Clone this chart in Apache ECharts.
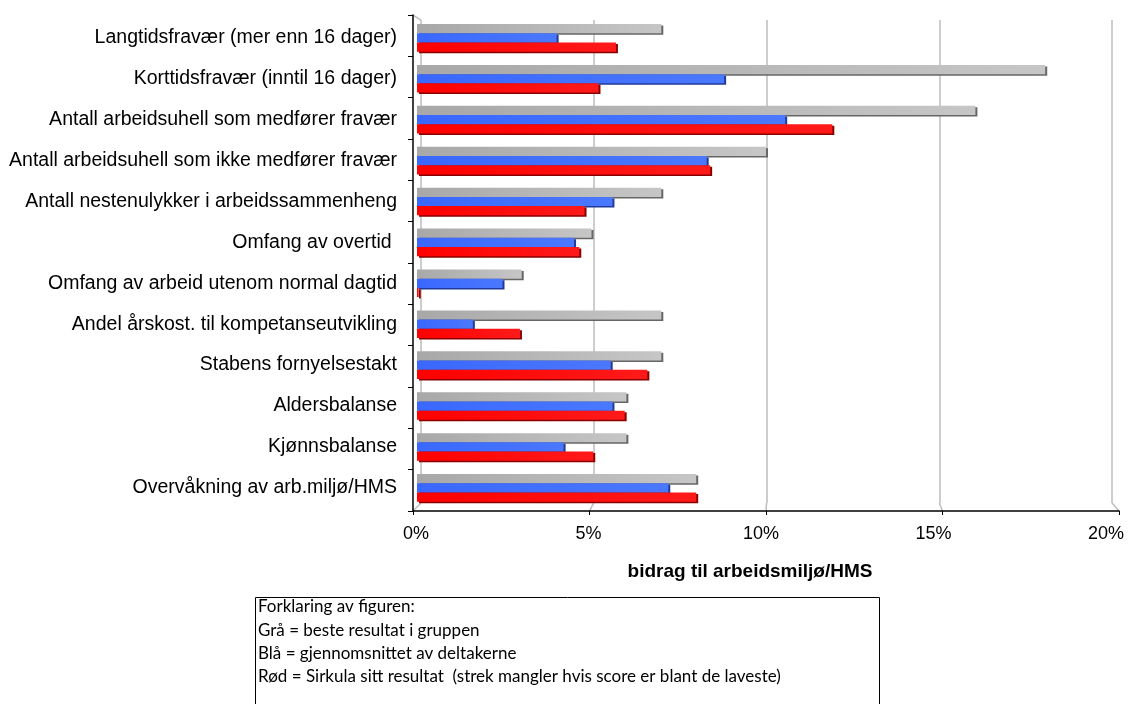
<!DOCTYPE html>
<html>
<head>
<meta charset="utf-8">
<script src="https://cdn.jsdelivr.net/npm/echarts@6/dist/echarts.min.js"></script>
<style>
  html, body { margin: 0; padding: 0; background: #fff; }
  #chart { width: 1139px; height: 704px; }
</style>
</head>
<body>
<div id="chart"></div>
<script>
// Indicators, top to bottom
const categories = [
  'Langtidsfravær (mer enn 16 dager)',
  'Korttidsfravær (inntil 16 dager)',
  'Antall arbeidsuhell som medfører fravær',
  'Antall arbeidsuhell som ikke medfører fravær',
  'Antall nestenulykker i arbeidssammenheng',
  'Omfang av overtid ',
  'Omfang av arbeid utenom normal dagtid',
  'Andel årskost. til kompetanseutvikling',
  'Stabens fornyelsestakt',
  'Aldersbalanse',
  'Kjønnsbalanse',
  'Overvåkning av arb.miljø/HMS'
];

// Contribution to working environment / HSE, in percent
const bestInGroup = [7, 18, 16, 10, 7, 5, 3, 7, 7, 6, 6, 8];
const participantAverage = [4.0, 8.8, 10.55, 8.3, 5.6, 4.5, 2.45, 1.6, 5.55, 5.6, 4.2, 7.2];
const sirkulaResult = [5.7, 5.2, 11.9, 8.4, 4.8, 4.65, 0.05, 2.95, 6.6, 5.95, 5.05, 8.0];

const xTicks = [0, 5, 10, 15, 20];
const axisTitle = 'bidrag til arbeidsmiljø/HMS';
const legendLines = [
  'Forklaring av figuren:',
  'Grå = beste resultat i gruppen',
  'Blå = gjennomsnittet av deltakerne',
  'Rød = Sirkula sitt resultat  (strek mangler hvis score er blant de laveste)'
];

const FONT = '"Liberation Sans", Arial, sans-serif';
const xMax = xTicks[xTicks.length - 1];
const xStep = xTicks[1] - xTicks[0];

function barStyle(c0, c1, edge) {
  return {
    color: new echarts.graphic.LinearGradient(0, 0, 1, 0, [
      { offset: 0, color: c0 },
      { offset: 1, color: c1 }
    ]),
    shadowColor: edge,
    shadowBlur: 0,
    shadowOffsetX: 2,
    shadowOffsetY: 1.5
  };
}

const chart = echarts.init(document.getElementById('chart'), null, { renderer: 'canvas' });

const option = {
  backgroundColor: '#ffffff',
  animation: false,
  grid: [
    // bars (mid depth)
    { left: 417, right: 24, top: 17.4, bottom: 195.7 },
    // front axes
    { left: 413, right: 20, top: 15, bottom: 193 },
    // back wall with gridlines
    { left: 421, right: 27, top: 20, bottom: 201 },
    // tick labels of the value axis
    { left: 416, right: 33, top: 15, bottom: 193 }
  ],
  xAxis: [
    { gridIndex: 0, type: 'value', min: 0, max: xMax, interval: xStep, show: false },
    {
      gridIndex: 1, type: 'value', min: 0, max: xMax, interval: xStep,
      axisLine: { show: true, lineStyle: { color: '#000', width: 1.5 } },
      axisTick: { show: true, length: 4, lineStyle: { color: '#000' } },
      splitLine: { show: false },
      axisLabel: { show: false }
    },
    {
      gridIndex: 2, type: 'value', min: 0, max: xMax, interval: xStep,
      axisLine: { show: false }, axisTick: { show: false }, axisLabel: { show: false },
      splitLine: { show: true, lineStyle: { color: '#bdbdbd', width: 1.5 } }
    },
    {
      gridIndex: 3, type: 'value', min: 0, max: xMax, interval: xStep,
      axisLine: { show: false }, axisTick: { show: false }, splitLine: { show: false },
      axisLabel: { formatter: '{value}%', fontFamily: FONT, fontSize: 18, color: '#000', margin: 14 }
    }
  ],
  yAxis: [
    {
      gridIndex: 0, type: 'category', data: categories, inverse: true,
      axisLine: { show: false }, axisTick: { show: false },
      axisLabel: { fontFamily: FONT, fontSize: 19.5, color: '#000', margin: 20 }
    },
    {
      gridIndex: 1, type: 'category', data: categories, inverse: true,
      axisLine: { show: true, lineStyle: { color: '#000', width: 1.5 } },
      axisTick: { show: true, length: 5, lineStyle: { color: '#000' } },
      axisLabel: { show: false }
    },
    { gridIndex: 2, type: 'category', data: categories, inverse: true, show: false },
    { gridIndex: 3, type: 'category', data: categories, inverse: true, show: false }
  ],
  series: [
    {
      name: 'Grå', type: 'bar', xAxisIndex: 0, yAxisIndex: 0,
      data: bestInGroup, barWidth: 9.2, barGap: '0%',
      itemStyle: barStyle('#a8a8a8', '#c6c6c6', '#666666')
    },
    {
      name: 'Blå', type: 'bar', xAxisIndex: 0, yAxisIndex: 0,
      data: participantAverage, barWidth: 9.2, barGap: '0%',
      itemStyle: barStyle('#3a68ff', '#4a78ff', '#1f3a99')
    },
    {
      name: 'Rød', type: 'bar', xAxisIndex: 0, yAxisIndex: 0,
      data: sirkulaResult, barWidth: 9.2, barGap: '0%',
      itemStyle: barStyle('#ff0000', '#ff1a1a', '#8a0000')
    }
  ]
};

chart.setOption(option);

// Floor and wall edges joining the front axes to the back wall
const edges = [];
const lastCat = categories[categories.length - 1];
xTicks.forEach(function (t) {
  const front = chart.convertToPixel({ gridIndex: 1 }, [t, lastCat]);
  const back = chart.convertToPixel({ gridIndex: 2 }, [t, lastCat]);
  const fy = front[1] + 20.6, by = back[1] + 20.1;
  edges.push({
    type: 'line', silent: true,
    shape: { x1: back[0], y1: by, x2: front[0], y2: fy },
    style: { stroke: '#bdbdbd', lineWidth: 1.5 }
  });
});
const topFront = chart.convertToPixel({ gridIndex: 1 }, [0, categories[0]]);
const topBack = chart.convertToPixel({ gridIndex: 2 }, [0, categories[0]]);
edges.push({
  type: 'line', silent: true,
  shape: { x1: topFront[0], y1: topFront[1] - 20.6, x2: topBack[0], y2: topBack[1] - 20.1 },
  style: { stroke: '#bdbdbd', lineWidth: 1.5 }
});

// Axis title and explanation box
const legendTexts = legendLines.map(function (line, i) {
  return {
    type: 'text', x: 258, y: 607 + i * 23.3,
    style: {
      text: line, font: '17px Lato, "Open Sans", sans-serif', fill: '#000',
      align: 'left', verticalAlign: 'middle'
    }
  };
});

chart.setOption({
  graphic: edges.concat([
    {
      type: 'text', x: 750, y: 572,
      style: {
        text: axisTitle, font: 'bold 19px ' + FONT, fill: '#000',
        align: 'center', verticalAlign: 'middle'
      }
    },
    {
      type: 'rect', shape: { x: 255.5, y: 597.5, width: 624, height: 120 },
      style: { fill: 'none', stroke: '#000', lineWidth: 1 }
    }
  ]).concat(legendTexts)
});
</script>
</body>
</html>
